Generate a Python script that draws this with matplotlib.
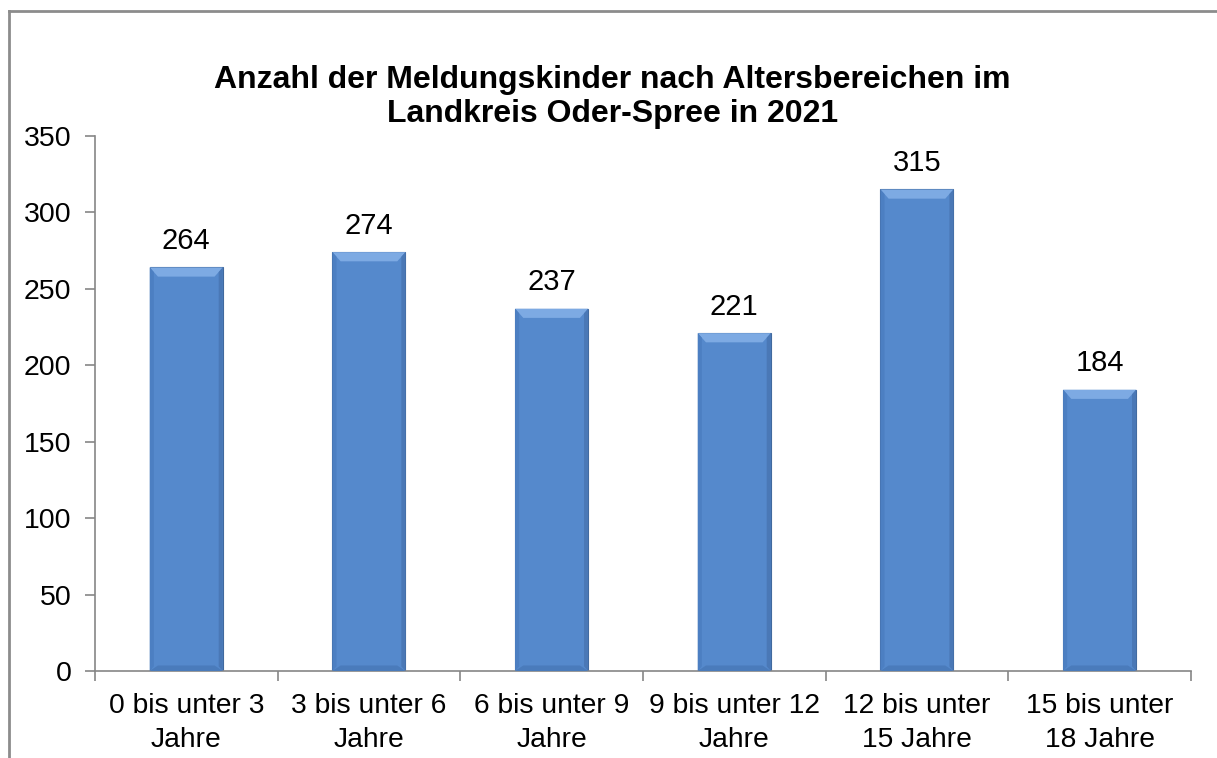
import numpy as np
import matplotlib.pyplot as plt
from matplotlib.patches import Polygon
from matplotlib.lines import Line2D

plt.rcParams['font.family'] = ['Liberation Sans', 'DejaVu Sans']

categories = ["0 bis unter 3\nJahre", "3 bis unter 6\nJahre", "6 bis unter 9\nJahre",
              "9 bis unter 12\nJahre", "12 bis unter\n15 Jahre", "15 bis unter\n18 Jahre"]
values = [264, 274, 237, 221, 315, 184]
yticks = [0, 50, 100, 150, 200, 250, 300, 350]

fig = plt.figure(figsize=(12.17, 7.58), dpi=100)
ax = fig.add_axes([0.078, 0.1148, 0.9006, 0.7058])

x = np.arange(len(values))
width = 0.4
bars = ax.bar(x, values, width=width, color='#5589CC', edgecolor='#41699E', linewidth=0.8, zorder=2)

# simple bevel on top and bottom of each bar
for b in bars:
    x0 = b.get_x()
    x1 = x0 + b.get_width()
    h = b.get_height()
    dx = 0.045
    dy = 6
    ax.add_patch(Polygon([[x0, h], [x1, h], [x1 - dx, h - dy], [x0 + dx, h - dy]],
                         closed=True, facecolor='#7DAAE3', edgecolor='none', zorder=3))
    ax.add_patch(Polygon([[x0, 0], [x1, 0], [x1 - dx, dy * 0.6], [x0 + dx, dy * 0.6]],
                         closed=True, facecolor='#4A7BBB', edgecolor='none', zorder=3))
    ax.add_patch(Polygon([[x0, 0], [x0 + dx * 0.5, 3], [x0 + dx * 0.5, h - 3], [x0, h]],
                         closed=True, facecolor='#4C7FC2', edgecolor='none', zorder=3))
    ax.add_patch(Polygon([[x1, 0], [x1 - dx * 0.5, 3], [x1 - dx * 0.5, h - 3], [x1, h]],
                         closed=True, facecolor='#4A78B6', edgecolor='none', zorder=3))
    ax.annotate(str(h), (b.get_x() + b.get_width() / 2, h), xytext=(0, 9),
                textcoords='offset points', ha='center', va='bottom', fontsize=21)

ax.set_xlim(-0.5, len(values) - 0.5)
ax.set_ylim(0, 350)
ax.set_yticks(yticks)
ax.set_yticklabels([str(t) for t in yticks], fontsize=20.5)
ax.set_xticks(x)
ax.set_xticklabels(categories, fontsize=20.3, linespacing=1.4)
ax.set_xticks(np.arange(-0.5, len(values)), minor=True)
ax.tick_params(axis='x', which='major', length=0, pad=16)
ax.tick_params(axis='x', which='minor', length=7, color='#868686', width=1.2)
ax.tick_params(axis='y', length=7, color='#868686', width=1.2, pad=10)

for s in ['top', 'right']:
    ax.spines[s].set_visible(False)
for s in ['left', 'bottom']:
    ax.spines[s].set_color('#868686')
    ax.spines[s].set_linewidth(1.2)

fig.text(0.503, 0.872, "Anzahl der Meldungskinder nach Altersbereichen im\nLandkreis Oder-Spree in 2021",
         ha='center', va='center', fontsize=23, fontweight='bold', linespacing=1.2)

# chart frame (partly cut off in the picture)
fig.add_artist(Line2D([0.0075, 0.0075], [0, 0.986], color='#8C8C8C', linewidth=2))
fig.add_artist(Line2D([0.0075, 1.0], [0.986, 0.986], color='#8C8C8C', linewidth=2))

fig.savefig('out.png', dpi=100)
